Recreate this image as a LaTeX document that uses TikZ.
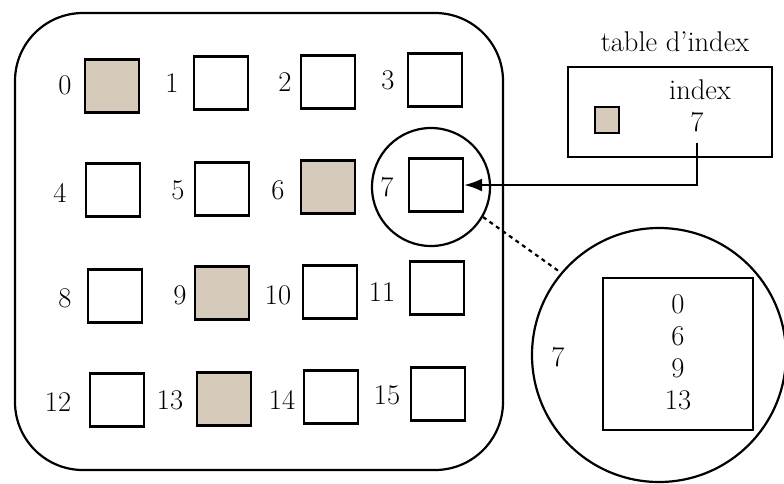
\documentclass[tikz,border=0pt]{standalone}
\usetikzlibrary{arrows.meta}
\definecolor{shade}{RGB}{214,203,186}
\begin{document}
\begin{tikzpicture}[x=1pt,y=-1pt, line width=2.2pt,
  font=\fontsize{28.5}{32}\selectfont,
  cell/.style={draw, minimum width=54pt, minimum height=53pt, inner sep=0pt},
  full/.style={cell, fill=shade},
  lbl/.style={inner sep=0pt}]
\useasboundingbox (0,0) rectangle (784,483);
% outer set
\node[draw, rounded corners=68pt, minimum width=488pt, minimum height=457pt, inner sep=0pt] (outer) at (259,241.5) {};
% cells
\node[full] (b0) at (112,86) {};
\node[cell] (b1) at (221,83) {};
\node[cell] (b2) at (328,82) {};
\node[cell] (b3) at (435,80) {};
\node[cell] (b4) at (113,190) {};
\node[cell] (b5) at (222,189) {};
\node[full] (b6) at (328,187) {};
\node[cell] (b7) at (436,185) {};
\node[cell] (b8) at (115,296) {};
\node[full] (b9) at (222,293) {};
\node[cell] (b10) at (330,292) {};
\node[cell] (b11) at (437,288) {};
\node[cell] (b12) at (117,400) {};
\node[full] (b13) at (224,399) {};
\node[cell] (b14) at (331,397) {};
\node[cell] (b15) at (438,394) {};
% labels
\node[lbl] (l0) at (65,85) {0};
\node[lbl] (l1) at (172,83) {1};
\node[lbl] (l2) at (285,82) {2};
\node[lbl] (l3) at (388,80) {3};
\node[lbl] (l4) at (60,193) {4};
\node[lbl] (l5) at (178,190) {5};
\node[lbl] (l6) at (278,190) {6};
\node[lbl] (l7) at (387,187) {7};
\node[lbl] (l8) at (65,298) {8};
\node[lbl] (l9) at (180,295) {9};
\node[lbl] (l10) at (278,295) {10};
\node[lbl] (l11) at (382,292) {11};
\node[lbl] (l12) at (58,402) {12};
\node[lbl] (l13) at (170,400) {13};
\node[lbl] (l14) at (282,400) {14};
\node[lbl] (l15) at (387,395) {15};
% highlight circle
\node[draw, circle, minimum size=118pt, inner sep=0pt] (c7) at (431,187) {};
% index table
\node[lbl] (ttitle) at (675,42) {table d'index};
\node[draw, minimum width=204pt, minimum height=90pt, inner sep=0pt] (tab) at (670,112) {};
\node[lbl] (tidx) at (700,90) {index};
\node[lbl] (t7) at (697,122) {7};
\node[draw, fill=shade, minimum width=24pt, minimum height=26pt, inner sep=0pt, line width=1.8pt] (tsq) at (607,120) {};
\draw[-{Latex[length=18pt,width=13pt]}] ([yshift=-10pt]t7.south) |- (b7.east);
% zoom circle
\node[draw, circle, minimum size=254pt, inner sep=0pt] (big) at (659,355) {};
\node[draw, minimum width=150pt, minimum height=152pt, inner sep=0pt] (ib) at (678,354) {};
\node[align=center, inner sep=0pt] (ibt) at (678,352) {0\\6\\9\\13};
\node[lbl] (b7lbl) at (558,357) {7};
\draw[dash pattern=on 4pt off 4pt] (c7.-30) -- (big.140);
\end{tikzpicture}
\end{document}
